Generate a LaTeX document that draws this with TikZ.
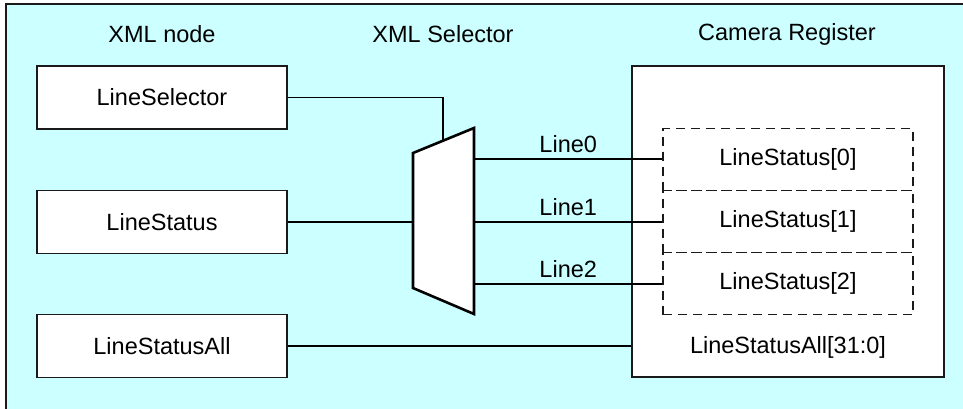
\documentclass[tikz,border=0pt]{standalone}
\usepackage{fontspec}
\setmainfont{Liberation Sans}
\definecolor{bgc}{HTML}{CCFFFF}
\definecolor{edge}{HTML}{1A1A1A}
\begin{document}
\begin{tikzpicture}[x=1pt,y=-1pt,
  every node/.style={font=\fontsize{23.5}{28}\selectfont, inner sep=0pt},
  xbox/.style={draw=edge, fill=white, line width=1.4pt, minimum width=250pt, minimum height=63pt},
  regbox/.style={draw=edge, fill=white, line width=1.4pt, minimum width=312pt, minimum height=311pt},
  dbox/.style={draw=edge, dash pattern=on 9pt off 6pt, line width=1.1pt, minimum width=250pt, minimum height=62pt},
  conn/.style={draw=black, line width=1.1pt},
  lbl/.style={above=6pt}
]
\useasboundingbox (0,0) rectangle (963,408);
\fill[bgc] (6,4) rectangle (975,420);
\draw[edge, line width=1.2pt] (6,420) -- (6,4) -- (975,4);

% headings
\node (h1) at (162,34) {XML node};
\node (h2) at (443,34) {XML Selector};
\node (h3) at (787,34) {Camera Register};

% XML node boxes
\node[xbox] (ls) at (162,97.5) {LineSelector};
\node[xbox] (lst) at (162,222) {LineStatus};
\node[xbox] (lsa) at (162,346) {LineStatusAll};

% camera register
\node[regbox] (cam) at (788,221.5) {};
\node[dbox] (d0) at (788,159.5) {LineStatus[0]};
\node[dbox] (d1) at (788,221.5) {LineStatus[1]};
\node[dbox] (d2) at (788,283.5) {LineStatus[2]};
\node (all) at (788,347) {LineStatusAll[31:0]};

% multiplexer
\coordinate (mtl) at (413,153);
\coordinate (mtr) at (474,128);
\coordinate (mbr) at (474,314);
\coordinate (mbl) at (413,288);
\draw[fill=white, line width=2.6pt, line join=miter] (mtl) -- (mtr) -- (mbr) -- (mbl) -- cycle;
\coordinate (mtop) at (443,140.6);
\coordinate (min) at (413,222);
\coordinate (m0) at (474,159);
\coordinate (m1) at (474,222);
\coordinate (m2) at (474,284);

% connectors
\draw[conn] (ls.east) -| (mtop);
\draw[conn] (lst.east) -- (min);
\draw[conn] (m0) -- node[lbl] {Line0} (m0 -| d0.west);
\draw[conn] (m1) -- node[lbl] {Line1} (m1 -| d1.west);
\draw[conn] (m2) -- node[lbl] {Line2} (m2 -| d2.west);
\draw[conn] (lsa.east) -- (lsa.east -| cam.west);
\end{tikzpicture}
\end{document}
